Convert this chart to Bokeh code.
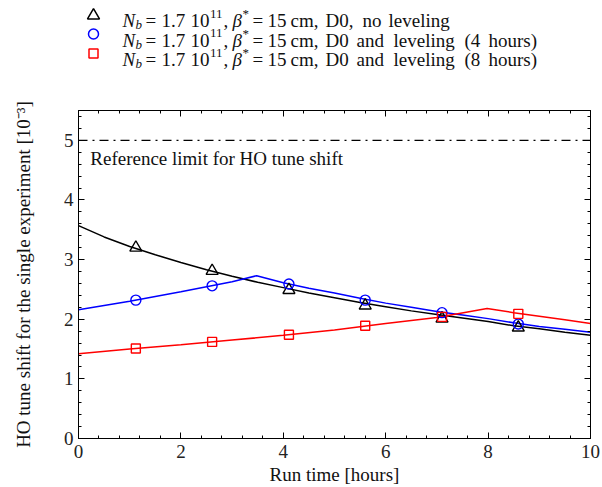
from bokeh.plotting import figure
from bokeh.layouts import column
from bokeh.models import (Range1d, LinearAxis, Label, Span, SingleIntervalTicker,
                          CustomJSTickFormatter)
from bokeh.core.properties import value
from bokeh.embed import file_html
from bokeh.resources import INLINE

# ---------------- data ----------------
# marker times [hours]
t_marks = [1.12, 2.61, 4.11, 5.60, 7.10, 8.59]
noLev_marks = [3.20, 2.81, 2.49, 2.23, 2.01, 1.86]
lev4_marks = [2.32, 2.56, 2.59, 2.32, 2.11, 1.92]
lev8_marks = [1.51, 1.62, 1.74, 1.89, 2.04, 2.09]

# curves
t_noLev = [0, 0.5, 1, 1.5, 2, 2.5, 3, 3.5, 4, 4.5, 5, 5.5, 6, 6.5, 7, 7.5, 8, 8.5, 9, 9.5, 10]
noLev = [3.57, 3.38, 3.22, 3.08, 2.95, 2.83, 2.72, 2.62, 2.53, 2.44, 2.36, 2.28, 2.21, 2.14, 2.08, 2.02, 1.96, 1.89, 1.84, 1.78, 1.73]
t_lev4 = [0, 1, 2, 3, 3.48, 4, 4.5, 5, 5.5, 6, 6.5, 7, 7.5, 8, 8.5, 9, 9.5, 10]
lev4 = [2.16, 2.30, 2.46, 2.63, 2.73, 2.61, 2.52, 2.44, 2.35, 2.27, 2.20, 2.13, 2.07, 2.01, 1.94, 1.88, 1.83, 1.78]
t_lev8 = [0, 1, 2, 3, 4, 5, 6, 7, 7.98, 8.5, 9, 9.5, 10]
lev8 = [1.42, 1.50, 1.57, 1.65, 1.73, 1.82, 1.93, 2.03, 2.18, 2.11, 2.05, 1.99, 1.93]

ref_limit = 5.0
ref_text = "Reference limit for HO tune shift"
x_label = "Run time [hours]"
y_label = "HO tune shift for the single experiment [10\u207b\u00b3]"
series_colors = ["#000000", "#0000ff", "#ff0000"]
series_markers = ["triangle", "circle", "square"]
legend_suffixes = [["D0,", "no", "leveling"],
                   ["D0", "and", "leveling", "(4", "hours)"],
                   ["D0", "and", "leveling", "(8", "hours)"]]

FONT = "Liberation Serif"
FS = "19px"

LEFT, RIGHT = 78, 12
LEG_H = 70

# ---------------- main plot ----------------
p = figure(width=602, height=487 - LEG_H, x_range=Range1d(0, 10), y_range=Range1d(0, 5.5),
           output_backend="svg", toolbar_location=None,
           min_border_left=LEFT, min_border_right=RIGHT, min_border_top=110 - LEG_H,
           min_border_bottom=49)
p.grid.visible = False
p.outline_line_color = "black"
p.outline_line_width = 1

p.xaxis.ticker = SingleIntervalTicker(interval=2, num_minor_ticks=5)
p.yaxis.ticker = SingleIntervalTicker(interval=1, num_minor_ticks=5)


def style_axis(ax, show):
    ax.major_tick_in = 6
    ax.major_tick_out = 0
    ax.minor_tick_in = 3
    ax.minor_tick_out = 0
    ax.axis_line_color = "black"
    ax.major_tick_line_color = "black"
    ax.minor_tick_line_color = "black"
    ax.major_label_text_font = FONT
    ax.major_label_text_color = "#222222"
    ax.major_label_text_font_size = FS
    if not show:
        ax.formatter = CustomJSTickFormatter(code="return ''")
        ax.major_label_standoff = 0


style_axis(p.xaxis[0], True)
style_axis(p.yaxis[0], True)
p.xaxis.major_label_standoff = 6
p.yaxis.major_label_standoff = 5
p.xaxis.axis_label = x_label
p.xaxis.axis_label_standoff = 3
p.yaxis.axis_label = y_label
p.yaxis.axis_label_standoff = 27
for ax in (p.xaxis[0], p.yaxis[0]):
    ax.axis_label_text_font = FONT
    ax.axis_label_text_font_size = FS
    ax.axis_label_text_font_style = "normal"
    ax.axis_label_text_color = "#111111"

top_ax = LinearAxis(ticker=SingleIntervalTicker(interval=2, num_minor_ticks=5))
right_ax = LinearAxis(ticker=SingleIntervalTicker(interval=1, num_minor_ticks=5))
style_axis(top_ax, False)
style_axis(right_ax, False)
p.add_layout(top_ax, "above")
p.add_layout(right_ax, "right")

p.add_layout(Span(location=ref_limit, dimension="width", line_color="black",
                  line_width=1.3, line_dash="9 5 2 5"))
p.add_layout(Label(x=0.23, y=ref_limit - 0.30, text=ref_text, text_font=FONT,
                   text_font_size=FS, text_color="#111111", text_baseline="alphabetic"))

p.line(t_noLev, noLev, line_color=series_colors[0], line_width=1.5)
p.line(t_lev4, lev4, line_color=series_colors[1], line_width=1.5)
p.line(t_lev8, lev8, line_color=series_colors[2], line_width=1.5)

for vals, c, m, s in [(noLev_marks, series_colors[0], "triangle", 12),
                      (lev4_marks, series_colors[1], "circle", 10),
                      (lev8_marks, series_colors[2], "square", 9)]:
    p.scatter(t_marks, vals, marker=m, size=s, fill_color=None, line_color=c, line_width=1.4)

# ---------------- legend panel (pixel coordinates of the page) ----------------
lg = figure(width=602, height=LEG_H, x_range=Range1d(LEFT, 602 - RIGHT), y_range=Range1d(LEG_H, 0),
            output_backend="svg", toolbar_location=None,
            min_border_left=LEFT, min_border_right=RIGHT, min_border_top=0, min_border_bottom=0,
            x_axis_type=None, y_axis_type=None)
lg.grid.visible = False
lg.outline_line_color = None

row_y = [15, 33.5, 53]
base_y = [20, 39.5, 59]
mk_x = 93
for i in range(3):
    lg.scatter([mk_x], [row_y[i]], marker=series_markers[i], size=[12, 10, 9][i],
               fill_color=None, line_color=series_colors[i], line_width=1.5)

prefix = [("N", 122, "it"), ("b", 135, "sub"), ("=", 145, "rm"), ("1.7", 161, "rm"),
          ("10", 190, "rm"), ("11", 209.5, "sup"), (",", 223, "rm"), ("\u03b2", 232, "it"),
          ("*", 242, "sup"), ("=", 252, "rm"), ("15", 267, "rm"), ("cm,", 290, "rm")]
suffix_x = [[325, 362, 388], [325, 356, 393, 464, 488], [325, 356, 393, 464, 488]]

for i in range(3):
    pieces = list(prefix) + [(w, x, "rm") for w, x in zip(legend_suffixes[i], suffix_x[i])]
    for txt, x, st in pieces:
        size = FS if st in ("rm", "it") else "13px"
        y = base_y[i]
        if st == "sub":
            y += 4
        if st == "sup":
            y -= 7
        style = "italic" if st in ("it", "sub") else "normal"
        lg.text(x=[x], y=[y], text=[txt], text_font=value(FONT), text_font_size=value(size),
                text_font_style=style, text_color="#111111", text_baseline="alphabetic")

layout = column(lg, p, spacing=0)
open("out.html", "w").write(file_html(layout, INLINE))
